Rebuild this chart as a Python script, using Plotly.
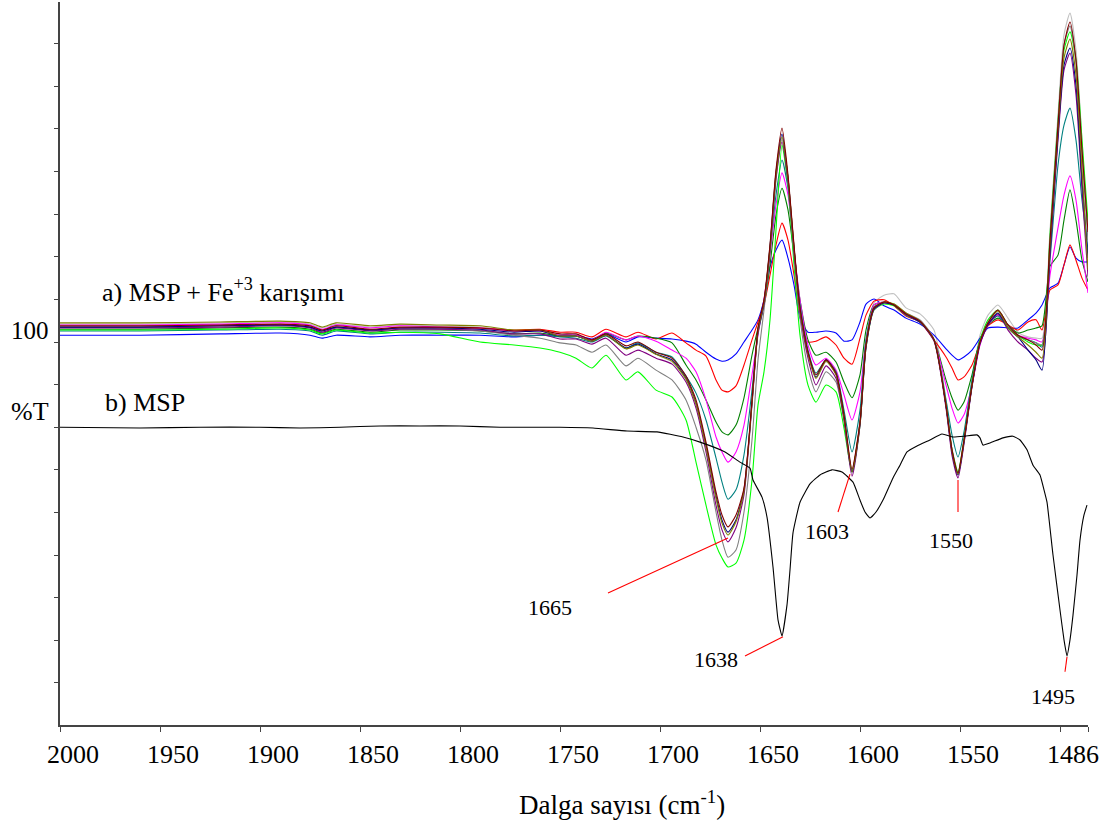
import plotly.graph_objects as go

# Wavenumber grid (cm-1) shared by the MSP + Fe(+3) spectra
wavenumber = [2000, 1960, 1920, 1890, 1875, 1869, 1862, 1845, 1830, 1810, 1790, 1773, 1760, 1750, 1742, 1734,
              1727, 1717, 1711, 1702, 1694, 1687, 1682, 1677, 1672, 1669, 1666, 1662, 1658, 1654, 1651, 1648,
              1645, 1642, 1639, 1636, 1633, 1630, 1626, 1622, 1617, 1612, 1608, 1604, 1600, 1597, 1593, 1588,
              1583, 1577, 1570, 1563, 1557, 1554, 1551, 1548, 1544, 1540, 1536, 1531, 1526, 1521, 1516, 1512,
              1509, 1505, 1501, 1498, 1495, 1492, 1489, 1486]

silver = [104.2,104.2,104.5,104.7,104.2,103.3,104.2,103.5,104.0,103.8,
          103.5,102.6,102.6,101.4,101.4,100.2,101.6,98.4,99.5,97.1,
          95.3,91.1,85.2,75.1,63.4,57.8,55.2,58.2,65.3,85.9,
          102.8,109.9,122.8,139.9,147.9,138.5,122.1,107.5,97.2,91.5,
          95.3,92.5,82.9,70.0,81.7,100.0,109.2,111.0,111.3,108.0,
          106.6,102.8,86.4,75.1,69.5,77.5,91.1,101.6,106.3,108.7,
          105.6,102.3,101.2,100.9,100.9,126.3,153.3,172.1,177.2,168.5,
          147.4,123.9]
blue = [101.6,101.6,101.9,102.1,101.6,100.9,101.6,101.2,101.6,101.6,
        101.6,101.2,101.6,101.6,101.6,100.7,101.9,100.0,101.2,100.9,
        100.7,100.2,99.5,97.6,96.0,95.5,95.8,97.2,100.0,102.8,
        105.2,109.9,117.6,121.6,123.9,119.7,113.4,105.6,102.3,102.3,
        102.6,102.1,100.2,100.5,104.7,108.9,110.1,108.5,107.5,105.6,
        104.2,101.6,98.4,96.9,95.8,96.5,98.1,100.9,103.3,103.5,
        103.3,103.3,105.2,106.8,108.7,112.7,113.8,118.1,122.3,119.7,
        118.8,118.8]
red = [103.5,103.5,103.8,104.0,103.5,102.8,103.5,102.8,103.3,103.3,
       103.3,102.8,103.0,102.3,102.3,101.2,103.0,101.2,102.3,100.7,
       102.1,99.8,98.1,96.7,91.1,88.7,88.3,89.7,94.6,100.5,
       104.7,108.7,115.7,122.8,127.9,123.9,115.7,106.3,100.0,100.2,
       101.2,99.3,96.2,94.8,100.9,106.3,109.6,109.9,108.5,106.1,
       104.7,100.5,96.5,93.9,91.1,91.8,94.6,99.8,103.8,105.2,
       104.0,102.8,104.7,105.2,102.8,112.2,113.4,118.1,122.8,119.2,
       115.0,112.2]
dkgreen = [103.0,103.0,103.3,103.5,103.0,102.1,103.0,102.3,102.8,102.8,
           102.6,101.9,102.1,101.4,101.4,100.5,102.1,100.5,101.4,100.9,
           99.8,94.6,91.1,86.4,81.2,78.9,78.2,80.5,86.9,96.9,
           103.3,108.7,118.1,129.8,136.1,131.0,120.4,109.9,100.5,96.9,
           97.6,95.3,90.6,86.9,92.3,102.8,108.7,109.4,108.7,106.6,
           104.9,100.5,91.1,86.9,84.0,85.9,92.3,100.5,104.0,105.6,
           104.0,102.1,102.8,103.3,103.8,117.8,120.4,128.6,135.7,128.6,
           119.2,114.1]
magenta = [104.0,104.0,104.2,104.5,104.0,103.0,104.0,103.3,103.8,103.5,
           103.3,102.6,102.6,101.6,101.6,100.5,102.3,100.5,101.4,100.2,
           98.1,96.2,93.0,86.4,77.7,74.2,71.8,74.2,80.5,92.3,
           101.6,109.9,120.4,132.2,139.7,134.5,121.6,109.9,99.3,94.6,
           96.2,93.4,87.6,81.7,88.3,100.5,108.7,109.4,108.7,106.6,
           104.9,100.5,89.9,84.5,81.0,82.9,89.9,99.3,104.0,106.3,
           104.0,101.6,100.9,100.5,100.0,115.7,126.8,134.5,139.0,133.3,
           121.6,111.5]
teal = [102.6,102.6,102.8,103.0,102.6,101.6,102.6,101.9,102.3,102.3,
        102.1,101.4,101.6,101.2,100.9,100.0,101.4,98.6,99.8,97.6,
        96.5,92.0,88.0,81.7,72.8,67.1,63.1,65.3,73.5,88.7,
        102.1,108.7,121.6,134.5,142.7,136.1,121.6,108.7,98.1,92.7,
        95.8,93.0,84.0,74.2,84.0,100.5,108.2,109.2,108.7,106.3,
        104.7,100.5,86.4,78.2,73.0,78.9,91.1,100.5,104.2,106.1,
        103.3,101.2,100.5,99.8,98.8,119.2,141.5,150.9,154.9,147.4,
        133.3,121.6]
lime = [102.8,102.8,103.0,103.3,102.8,101.9,102.8,102.1,102.3,101.9,
        100.0,99.3,98.6,97.6,96.2,93.9,96.9,91.1,93.0,88.7,
        87.1,81.7,71.8,61.7,52.4,49.3,47.2,48.1,53.5,67.6,
        85.2,93.0,105.2,126.3,146.2,136.8,118.1,101.6,89.9,85.9,
        89.9,88.3,79.8,69.5,80.5,98.6,107.5,108.9,108.5,106.3,
        104.7,100.5,85.2,74.7,69.5,77.0,89.9,100.5,105.2,107.5,
        104.0,101.6,100.0,99.3,99.3,125.1,152.1,168.5,172.8,166.2,
        147.4,128.2]
gray = [103.5,103.5,103.8,104.0,103.5,102.6,103.5,102.8,103.3,103.0,
        102.6,101.6,100.9,99.8,99.3,97.6,99.3,94.4,96.2,93.4,
        91.1,86.4,80.0,72.3,60.1,53.5,49.5,51.2,60.1,77.0,
        95.8,107.5,120.4,138.0,147.4,137.6,120.4,105.6,93.9,88.3,
        93.0,90.6,81.7,69.5,80.5,98.6,107.5,109.2,108.9,106.8,
        105.2,100.7,85.2,74.7,69.0,76.8,89.7,100.0,104.7,107.5,
        104.0,101.6,100.5,99.8,99.3,123.9,151.6,169.7,174.2,165.7,
        143.9,123.9]
purple = [103.3,103.3,103.5,103.8,103.3,102.3,103.3,102.6,103.0,103.0,
          102.8,101.9,101.9,100.7,100.7,99.5,100.9,96.9,98.1,96.2,
          94.8,90.6,84.5,74.2,61.7,55.9,53.1,56.4,64.1,85.2,
          102.3,108.9,121.6,138.5,146.9,137.6,121.1,107.0,96.2,89.9,
          94.4,91.5,81.7,68.5,80.5,98.8,107.7,109.2,108.7,106.3,
          104.7,100.2,84.5,73.4,68.1,76.1,89.4,99.5,104.0,106.6,
          102.8,100.0,98.1,96.2,95.3,120.4,147.4,163.8,167.8,158.0,
          135.7,115.3]
navy = [103.5,103.5,103.8,104.0,103.5,102.6,103.5,102.8,103.3,103.3,
        103.0,102.3,102.6,101.4,101.4,100.2,101.6,98.6,99.5,97.2,
        95.8,91.5,85.7,75.8,63.9,58.2,55.4,58.2,65.3,85.9,
        102.8,109.4,122.3,139.7,148.8,138.5,122.3,107.7,97.4,91.8,
        95.8,92.5,82.4,69.5,81.0,99.1,107.7,109.2,108.7,106.6,
        104.7,100.5,85.0,74.2,68.8,76.5,89.7,99.8,104.2,106.8,
        103.3,101.2,98.1,95.8,93.4,121.6,148.6,165.0,169.0,160.3,
        138.0,119.7]
olive = [104.5,104.5,104.7,104.9,104.5,103.5,104.5,103.8,104.2,104.0,
         103.8,102.8,102.8,101.4,101.4,100.2,101.6,98.4,99.3,97.1,
         95.5,91.3,85.5,75.4,63.4,57.5,54.7,57.8,65.0,85.7,
         102.6,109.4,122.1,139.2,148.1,138.5,122.1,107.5,97.2,91.5,
         95.5,92.3,82.4,69.5,81.0,99.3,108.0,109.4,108.9,106.8,
         104.9,100.5,85.2,74.4,69.0,76.8,89.9,100.0,104.5,107.3,
         103.3,101.2,99.3,97.6,96.2,122.8,149.8,166.7,171.1,162.7,
         140.4,116.9]
maroon = [103.8,103.8,104.0,104.2,103.8,102.8,103.8,103.0,103.5,103.5,
          103.3,102.6,102.8,101.9,101.9,100.5,101.9,99.1,100.0,97.6,
          96.2,92.0,86.4,76.5,64.8,59.4,56.6,59.4,65.7,86.4,
          103.3,109.9,122.8,140.4,150.2,139.2,122.8,108.0,97.6,92.3,
          95.8,92.7,82.9,70.2,81.2,99.3,108.0,109.4,108.7,106.6,
          104.9,100.5,85.2,74.7,69.3,77.0,89.9,100.0,104.5,107.5,
          104.0,101.6,100.5,99.3,98.1,123.9,150.9,169.7,175.1,166.2,
          145.1,125.8]

# MSP alone (black)
msp_w = [2000, 1960, 1930, 1900, 1880, 1860, 1840, 1820, 1800, 1780,
         1760, 1750, 1733.5, 1716.5, 1701.5, 1688.5, 1680, 1667.5, 1660, 1655,
         1653.5, 1649, 1646.5, 1643.5, 1641, 1639, 1636.5, 1635, 1633.5, 1630,
         1625, 1620, 1614, 1609, 1603.5, 1600, 1597.5, 1595, 1592, 1588.5,
         1583.5, 1580, 1576.5, 1571.5, 1565, 1559, 1553.5, 1547.5, 1541.5, 1540,
         1538.5, 1535, 1528.5, 1523.5, 1520, 1516.5, 1513.5, 1510, 1508, 1506.5,
         1503.5, 1500, 1498, 1496.5, 1495, 1493.5, 1491.5, 1490, 1488, 1486.5]
msp_t = [80.0, 79.8, 80.0, 80.0, 79.8, 80.0, 80.3, 80.3, 80.3, 80.0,
         80.0, 80.0, 79.8, 79.1, 78.9, 77.7, 76.5, 74.2, 71.8, 70.4,
         67.6, 63.6, 58.9, 47.2, 34.8, 31.0, 38.3, 46.5, 55.2, 62.4,
         66.7, 68.8, 70.0, 69.5, 67.1, 62.9, 60.1, 58.7, 60.1, 62.9,
         68.1, 71.1, 74.2, 75.6, 77.0, 78.4, 77.7, 77.9, 78.2, 77.5,
         75.8, 76.3, 77.5, 77.9, 77.0, 74.7, 71.1, 68.8, 65.3, 62.4,
         50.0, 37.1, 30.1, 26.3, 30.1, 35.9, 45.3, 53.5, 59.4, 61.7]

x_tickvals = [2000, 1950, 1900, 1850, 1800, 1750, 1700, 1650, 1600, 1550, 1500, 1486]
x_ticktext = ["2000", "1950", "1900", "1850", "1800", "1750", "1700", "1650", "1600", "1550", "1486", " "]

series = [
    ("silver", silver, "#C0C0C0"),
    ("blue", blue, "#0000FF"),
    ("red", red, "#FF0000"),
    ("dkgreen", dkgreen, "#008000"),
    ("magenta", magenta, "#FF00FF"),
    ("teal", teal, "#008080"),
    ("lime", lime, "#00FF00"),
    ("gray", gray, "#808080"),
    ("purple", purple, "#800080"),
    ("navy", navy, "#000080"),
    ("olive", olive, "#808000"),
    ("maroon", maroon, "#800000"),
]

FONT = "Liberation Serif, serif"

fig = go.Figure()
for name, ys, col in series:
    fig.add_trace(go.Scatter(x=wavenumber, y=ys, mode="lines", name=name,
                             line=dict(color=col, width=1.1, shape="spline", smoothing=0.6),
                             showlegend=False, hoverinfo="skip"))
fig.add_trace(go.Scatter(x=msp_w, y=msp_t, mode="lines", name="MSP",
                         line=dict(color="#000000", width=1.1, shape="spline", smoothing=0.4),
                         showlegend=False, hoverinfo="skip"))

# red leader lines for peak labels
leaders = [((1726, 41.1), (1666, 54.0)),
           ((1657.5, 26.3), (1638.5, 30.8)),
           ((1611, 60.1), (1605, 69.0)),
           ((1551, 60.1), (1551, 67.6)),
           ((1497.5, 22.6), (1496.5, 26.1))]
for (x0, y0), (x1, y1) in leaders:
    fig.add_shape(type="line", x0=x0, y0=y0, x1=x1, y1=y1, xref="x", yref="y",
                  line=dict(color="#FF0000", width=1.1))

peak_labels = [("1665", 1755, 37.8), ("1638", 1672, 25.4), ("1603", 1616.5, 55.6),
               ("1550", 1554.5, 53.5), ("1495", 1503.5, 16.7)]
for txt, xx, yy in peak_labels:
    fig.add_annotation(x=xx, y=yy, text=txt, showarrow=False, xanchor="center", yanchor="middle",
                       font=dict(family=FONT, size=22, color="black"))

fig.add_annotation(x=1980, y=112.2, text="a) MSP + Fe<sup>+3</sup> karışımı", showarrow=False,
                   xanchor="left", yanchor="middle", font=dict(family=FONT, size=26, color="black"))
fig.add_annotation(x=1978.5, y=85.7, text="b) MSP", showarrow=False,
                   xanchor="left", yanchor="middle", font=dict(family=FONT, size=26, color="black"))
fig.add_annotation(xref="paper", x=-0.029, y=102.6, text="100", showarrow=False,
                   xanchor="center", yanchor="middle", font=dict(family=FONT, size=25, color="black"))
fig.add_annotation(xref="paper", x=-0.029, y=83.6, text="%T", showarrow=False,
                   xanchor="center", yanchor="middle", font=dict(family=FONT, size=26, color="black"))
fig.add_annotation(xref="paper", yref="paper", x=0.547, y=-0.108,
                   text="Dalga sayısı (cm<sup>-1</sup>)", showarrow=False,
                   xanchor="center", yanchor="middle", font=dict(family=FONT, size=27, color="black"))

fig.update_xaxes(range=[2000, 1486], tickmode="array", tickvals=x_tickvals, ticktext=x_ticktext,
                 ticks="outside", ticklen=5, tickwidth=1.2, tickcolor="#444", tickangle=0,
                 showline=True, linecolor="#444", linewidth=1.5, showgrid=False, zeroline=False,
                 tickfont=dict(family=FONT, size=26, color="black"), ticklabelshift=-13)
fig.update_yaxes(range=[10.11, 179.8], tick0=0, dtick=10, ticks="outside", ticklen=4, tickwidth=1.2,
                 tickcolor="#444", showticklabels=False, showline=True, linecolor="#444", linewidth=1.5,
                 showgrid=False, zeroline=False)
fig.update_layout(width=1102, height=827, margin=dict(l=60, r=14, t=2, b=102),
                  plot_bgcolor="white", paper_bgcolor="white")

fig.write_html("out.html", config={"displayModeBar": False},
               post_script="document.body.style.margin='0px';")
